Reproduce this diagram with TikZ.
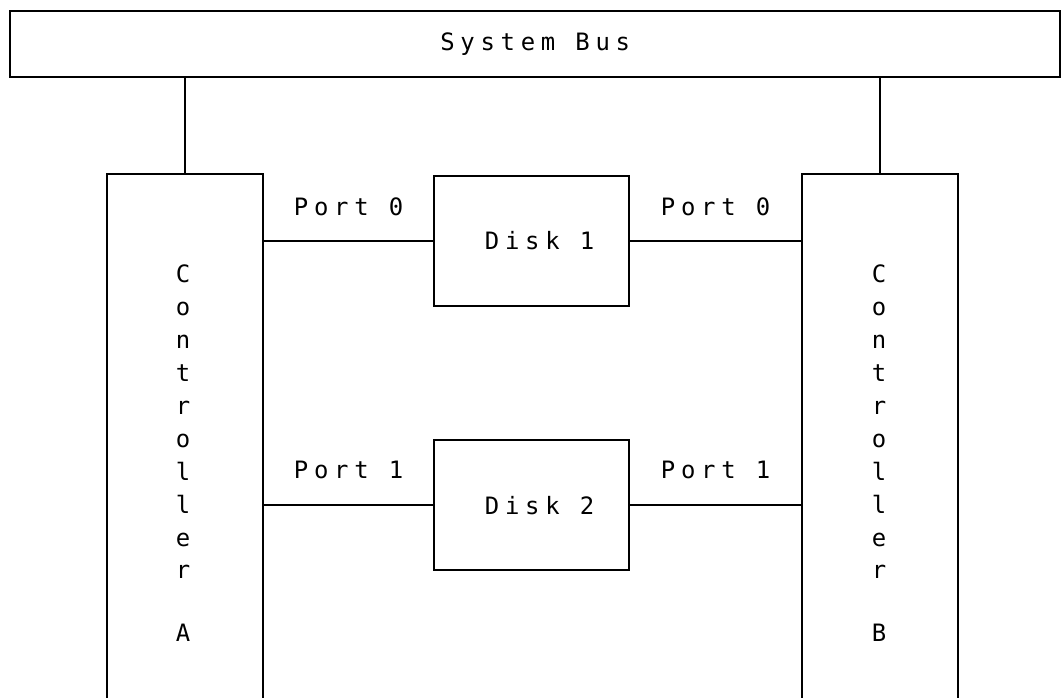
\documentclass[tikz,border=0pt]{standalone}
\usepackage{fontspec}
\newfontfamily\dotfont[LetterSpace=24]{DejaVu Sans Mono}
\usetikzlibrary{positioning}

\begin{document}
\begin{tikzpicture}[x=0.025cm, y=-0.025cm, line width=1.5pt,
    every node/.style={font=\dotfont\fontsize{17}{23.4}\selectfont},
    unit/.style={draw, line width=1.5pt, inner sep=0pt, anchor=north west},
    ctrl/.style={unit, minimum width=3.9cm, minimum height=13.5cm},
    disk/.style={unit, minimum width=4.875cm, minimum height=3.25cm},
    letters/.style={anchor=north, align=center, inner sep=0pt}]
  \useasboundingbox (0,0) rectangle (1062,697);
  \clip (0,0) rectangle (1062,697);

  \node[unit, minimum width=26.25cm, minimum height=1.65cm] (bus) at (9,10) {System Bus};
  \node[ctrl] (ctrlA) at (106,173) {};
  \node[ctrl] (ctrlB) at (801,173) {};
  \node[disk] (disk1) at (433,175) {\hspace*{0.4cm}Disk 1};
  \node[disk, below=3.3cm of disk1] (disk2) {\hspace*{0.4cm}Disk 2};

  \node[letters] (ctrlAname) at (183,264) {C\\o\\n\\t\\r\\o\\l\\l\\e\\r\\[0.75cm]A};
  \node[letters] (ctrlBname) at (879,264) {C\\o\\n\\t\\r\\o\\l\\l\\e\\r\\[0.75cm]B};

  \draw (bus.south -| ctrlA.north) -- (ctrlA.north);
  \draw (bus.south -| ctrlB.north) -- (ctrlB.north);

  \draw (ctrlA.east |- disk1.west) -- node[yshift=0.85cm] (portA0) {Port 0} (disk1.west);
  \draw (disk1.east) -- node[yshift=0.85cm] (portB0) {Port 0} (ctrlB.west |- disk1.east);
  \draw (ctrlA.east |- disk2.west) -- node[yshift=0.87cm] (portA1) {Port 1} (disk2.west);
  \draw (disk2.east) -- node[yshift=0.87cm] (portB1) {Port 1} (ctrlB.west |- disk2.east);
\end{tikzpicture}
\end{document}
